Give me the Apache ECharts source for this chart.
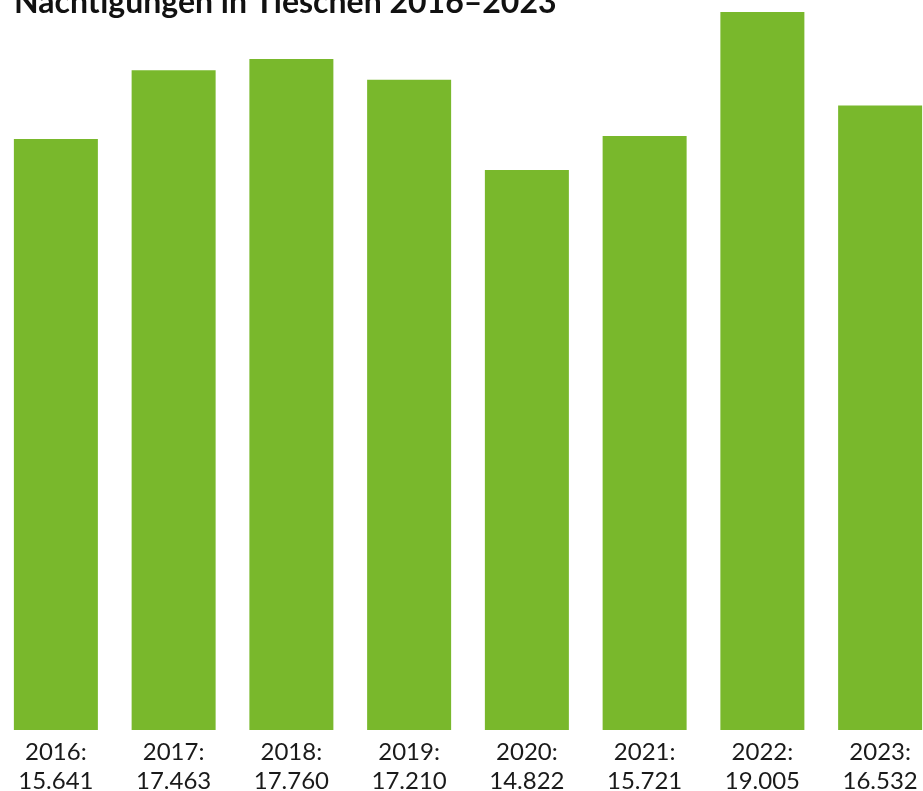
<!DOCTYPE html>
<html>
<head>
<meta charset="utf-8">
<script src="https://cdn.jsdelivr.net/npm/echarts@6/dist/echarts.min.js"></script>
<style>
  html, body { margin: 0; padding: 0; background: #fff; }
  #chart { width: 923px; height: 791px; }
</style>
</head>
<body>
<div id="chart"></div>
<script>
var years = ["2016", "2017", "2018", "2019", "2020", "2021", "2022", "2023"];
var stays = [15641, 17463, 17760, 17210, 14822, 15721, 19005, 16532];

function fmt(v) {
  return String(v).replace(/\B(?=(\d{3})+(?!\d))/g, ".");
}

var chart = echarts.init(document.getElementById("chart"));
var option = {
  animation: false,
  title: {
    text: "Nächtigungen in Tieschen 2016–2023",
    left: 9,
    top: -18,
    textStyle: {
      fontFamily: "Lato",
      fontWeight: "bold",
      fontSize: 32,
      color: "#111"
    }
  },
  grid: { left: -3, width: 942, top: 12, bottom: 61, outerBoundsMode: "none", containLabel: false },
  xAxis: {
    type: "category",
    data: years,
    axisLine: { show: false },
    axisTick: { show: false },
    axisLabel: {
      interval: 0,
      margin: 8,
      fontFamily: "Lato",
      fontSize: 24,
      lineHeight: 29,
      color: "#1a1a1a",
      formatter: function (val, idx) {
        return val + ":\n" + fmt(stays[idx]);
      }
    }
  },
  yAxis: {
    type: "value",
    min: 0,
    max: "dataMax",
    show: false,
    splitLine: { show: false }
  },
  series: [
    {
      type: "bar",
      data: stays,
      barWidth: 84,
      itemStyle: { color: "#79b82c" }
    }
  ]
};
chart.setOption(option);
</script>
</body>
</html>
